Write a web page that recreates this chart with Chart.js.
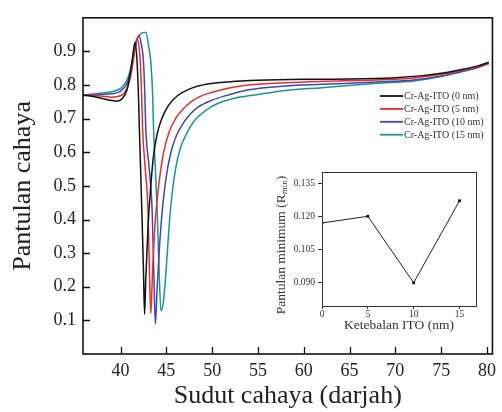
<!DOCTYPE html>
<html>
<head>
<meta charset="utf-8">
<script src="https://cdn.jsdelivr.net/npm/chart.js@4.4.1/dist/chart.umd.min.js"></script>
<style>
  html, body { margin: 0; padding: 0; background: #fff; }
  #wrap { position: relative; width: 502px; height: 412px; }
  #main { position: absolute; left: 0; top: 0; }
  #inset { position: absolute; left: 262px; top: 160px; }
</style>
</head>
<body>
<div id="wrap">
  <canvas id="main" width="502" height="412"></canvas>
  <canvas id="inset" width="220" height="180"></canvas>
</div>
<script>
// --- main plot: reflectance vs angle, one curve per ITO thickness ---
const seriesLabels = ['Cr-Ag-ITO (0 nm)', 'Cr-Ag-ITO (5 nm)', 'Cr-Ag-ITO (10 nm)', 'Cr-Ag-ITO (15 nm)'];
const seriesColors = ['#111111', '#ee2a2a', '#3d47b8', '#16988a'];

const ito0Angle = [35.9, 37, 38, 39, 39.6, 40.2, 40.7, 41.0, 41.3, 41.57, 41.8, 41.95, 42.05, 42.2, 42.35, 42.5, 42.62, 42.75, 43.0, 43.3, 43.6, 44.0, 44.5, 45.2, 46.2, 47.5, 49.5, 52, 55, 60, 65, 70, 73, 75, 77, 79, 80.2];
const ito0Refl  = [0.770, 0.766, 0.760, 0.754, 0.752, 0.760, 0.785, 0.825, 0.880, 0.927, 0.870, 0.772, 0.674, 0.540, 0.400, 0.250, 0.118, 0.220, 0.380, 0.500, 0.590, 0.655, 0.700, 0.738, 0.768, 0.788, 0.803, 0.810, 0.814, 0.817, 0.818, 0.822, 0.828, 0.835, 0.845, 0.857, 0.868];

const ito5Angle = [35.9, 37, 38, 39, 40, 40.7, 41.2, 41.55, 41.8, 42.15, 42.3, 42.4, 42.7, 43.0, 43.15, 43.3, 43.5, 43.8, 44.2, 44.7, 45.3, 46.0, 46.8, 47.8, 49, 50.5, 52, 54, 58, 62, 68, 72, 75, 77, 79, 80.2];
const ito5Refl  = [0.770, 0.769, 0.767, 0.764, 0.768, 0.790, 0.840, 0.905, 0.939, 0.870, 0.772, 0.674, 0.550, 0.425, 0.250, 0.120, 0.250, 0.400, 0.510, 0.600, 0.660, 0.700, 0.728, 0.752, 0.770, 0.782, 0.792, 0.800, 0.807, 0.811, 0.815, 0.821, 0.832, 0.842, 0.854, 0.866];

const ito10Angle = [35.9, 37, 38, 39, 40, 40.7, 41.2, 41.6, 42.0, 42.2, 42.5, 42.65, 42.75, 43.1, 43.45, 43.65, 43.8, 44.0, 44.3, 44.6, 45.0, 45.5, 46.1, 46.8, 47.6, 48.5, 50, 51.3, 54, 58, 62, 68, 72, 75, 77, 79, 80.2];
const ito10Refl  = [0.770, 0.771, 0.772, 0.774, 0.782, 0.805, 0.850, 0.910, 0.947, 0.930, 0.870, 0.772, 0.674, 0.560, 0.425, 0.220, 0.089, 0.200, 0.340, 0.440, 0.530, 0.600, 0.650, 0.685, 0.713, 0.735, 0.755, 0.767, 0.786, 0.797, 0.802, 0.809, 0.815, 0.827, 0.839, 0.852, 0.864];

const ito15Angle = [35.9, 37, 38, 39, 40, 40.7, 41.2, 41.6, 42.1, 42.75, 43.1, 43.3, 43.5, 43.6, 43.8, 44.0, 44.2, 44.42, 44.7, 45.0, 45.3, 45.6, 46.0, 46.5, 47.2, 48.1, 49.5, 50.6, 52, 55, 58, 62, 68, 72, 75, 77, 79, 80.2];
const ito15Refl  = [0.770, 0.773, 0.776, 0.780, 0.790, 0.815, 0.860, 0.920, 0.950, 0.957, 0.910, 0.870, 0.772, 0.674, 0.550, 0.425, 0.250, 0.128, 0.160, 0.260, 0.380, 0.470, 0.550, 0.610, 0.655, 0.695, 0.728, 0.745, 0.758, 0.772, 0.784, 0.792, 0.805, 0.812, 0.825, 0.838, 0.852, 0.864];

const angleTicks = [40, 45, 50, 55, 60, 65, 70, 75, 80];
const reflTicks = [0.1, 0.2, 0.3, 0.4, 0.5, 0.6, 0.7, 0.8, 0.9];

// --- inset: minimum reflectance vs ITO thickness ---
const insetThickness = [0, 5, 10, 15];
const insetMinRefl = [0.117, 0.120, 0.090, 0.127];
const insetXTicks = [0, 5, 10, 15];
const insetYTicks = [0.090, 0.105, 0.120, 0.135];

const SERIF = "'Liberation Serif', 'Times New Roman', serif";

function toPoints(xs, ys) {
    return xs.map((v, i) => ({ x: v, y: ys[i] }));
}

const curves = [
    [ito0Angle, ito0Refl],
    [ito5Angle, ito5Refl],
    [ito10Angle, ito10Refl],
    [ito15Angle, ito15Refl]
];

// box + inward tick marks + legend for the big plot
const mainDecor = {
    id: 'mainDecor',
    afterDraw(chart) {
        const { ctx, chartArea: a, scales: { x, y } } = chart;
        ctx.save();
        ctx.strokeStyle = '#111';
        ctx.lineWidth = 1.6;
        ctx.strokeRect(a.left, a.top, a.right - a.left, a.bottom - a.top);
        ctx.beginPath();
        angleTicks.forEach(v => {
            const px = Math.round(x.getPixelForValue(v)) + 0.5;
            ctx.moveTo(px, a.bottom);
            ctx.lineTo(px, a.bottom - 7);
        });
        reflTicks.forEach(v => {
            const py = Math.round(y.getPixelForValue(v)) + 0.5;
            ctx.moveTo(a.left, py);
            ctx.lineTo(a.left + 7, py);
        });
        ctx.lineWidth = 1.3;
        ctx.stroke();

        // legend
        ctx.font = '10px ' + SERIF;
        ctx.textBaseline = 'middle';
        ctx.fillStyle = '#333';
        chart.data.datasets.forEach((ds, i) => {
            const ly = 96 + i * 12.9;
            ctx.strokeStyle = ds.borderColor;
            ctx.lineWidth = 1.8;
            ctx.beginPath();
            ctx.moveTo(380, ly);
            ctx.lineTo(403, ly);
            ctx.stroke();
            ctx.fillText(ds.label, 404, ly + 0.5);
        });
        ctx.restore();
    }
};

new Chart(document.getElementById('main'), {
    type: 'line',
    data: {
        datasets: curves.map((c, i) => ({
            label: seriesLabels[i],
            data: toPoints(c[0], c[1]),
            borderColor: seriesColors[i],
            borderWidth: 1.5,
            pointRadius: 0,
            fill: false,
            cubicInterpolationMode: 'monotone'
        }))
    },
    options: {
        responsive: false,
        animation: false,
        devicePixelRatio: 1,
        layout: { padding: { top: 14, right: 3, left: 0, bottom: 0 } },
        plugins: { legend: { display: false }, tooltip: { enabled: false } },
        scales: {
            x: {
                type: 'linear',
                min: 35.9,
                max: 80.6,
                afterFit: (scale) => { scale.height = 58; },
                afterBuildTicks: (scale) => { scale.ticks = angleTicks.map(v => ({ value: v })); },
                grid: { display: false, drawTicks: false },
                border: { display: false },
                ticks: {
                    padding: 6,
                    color: '#222',
                    font: { family: SERIF, size: 18 },
                    maxRotation: 0
                },
                title: {
                    display: true,
                    text: 'Sudut cahaya (darjah)',
                    color: '#222',
                    font: { family: SERIF, size: 26 },
                    padding: { top: 0, bottom: 0 }
                }
            },
            y: {
                type: 'linear',
                min: 0,
                max: 1.0,
                afterFit: (scale) => { scale.width = 83; },
                afterBuildTicks: (scale) => { scale.ticks = reflTicks.map(v => ({ value: v })); },
                grid: { display: false, drawTicks: false },
                border: { display: false },
                ticks: {
                    padding: 7,
                    color: '#222',
                    font: { family: SERIF, size: 18 },
                    callback: (v) => v.toFixed(1)
                },
                title: {
                    display: true,
                    text: 'Pantulan cahaya',
                    color: '#222',
                    font: { family: SERIF, size: 26 },
                    padding: { top: 8, bottom: 0 }
                }
            }
        }
    },
    plugins: [mainDecor]
});

// inset frame and its y title with subscript
const insetDecor = {
    id: 'insetDecor',
    afterDraw(chart) {
        const { ctx, chartArea: a } = chart;
        ctx.save();
        ctx.strokeStyle = '#333';
        ctx.lineWidth = 1;
        ctx.strokeRect(a.left + 0.5, a.top + 0.5, a.right - a.left, a.bottom - a.top);

        const main = 'Pantulan minimum (R';
        const sub = 'min';
        const tail = ')';
        const bigFont = '13.5px ' + SERIF;
        const smallFont = '9px ' + SERIF;
        ctx.font = bigFont;
        const w1 = ctx.measureText(main).width;
        const w3 = ctx.measureText(tail).width;
        ctx.font = smallFont;
        const w2 = ctx.measureText(sub).width;
        const total = w1 + w2 + w3;
        ctx.translate(19, (a.top + a.bottom) / 2 + 6);
        ctx.rotate(-Math.PI / 2);
        ctx.fillStyle = '#333';
        ctx.textBaseline = 'middle';
        ctx.textAlign = 'left';
        let cx = -total / 2;
        ctx.font = bigFont;
        ctx.fillText(main, cx, 0);
        cx += w1;
        ctx.font = smallFont;
        ctx.fillText(sub, cx, 4);
        cx += w2;
        ctx.font = bigFont;
        ctx.fillText(tail, cx, 0);
        ctx.restore();
    }
};

new Chart(document.getElementById('inset'), {
    type: 'line',
    data: {
        datasets: [{
            data: toPoints(insetThickness, insetMinRefl),
            borderColor: '#222',
            backgroundColor: '#111',
            borderWidth: 1,
            pointStyle: 'rect',
            pointRadius: 2,
            pointBorderWidth: 0,
            tension: 0
        }]
    },
    options: {
        responsive: false,
        animation: false,
        devicePixelRatio: 1,
        layout: { padding: { top: 12, right: 6, left: 0, bottom: 0 } },
        plugins: { legend: { display: false }, tooltip: { enabled: false } },
        scales: {
            x: {
                type: 'linear',
                min: 0,
                max: 16.8,
                afterFit: (scale) => { scale.height = 34; },
                afterBuildTicks: (scale) => { scale.ticks = insetXTicks.map(v => ({ value: v })); },
                grid: { display: true, drawOnChartArea: false, drawTicks: true, tickLength: 3, color: '#333' },
                border: { display: false },
                ticks: {
                    padding: 0,
                    color: '#333',
                    font: { family: SERIF, size: 9.5 },
                    maxRotation: 0,
                    callback: (v) => String(v)
                },
                title: {
                    display: true,
                    text: 'Ketebalan ITO (nm)',
                    color: '#333',
                    font: { family: SERIF, size: 13.5 },
                    padding: { top: 0, bottom: 6 }
                }
            },
            y: {
                type: 'linear',
                min: 0.0795,
                max: 0.140,
                afterFit: (scale) => { scale.width = 60; },
                afterBuildTicks: (scale) => { scale.ticks = insetYTicks.map(v => ({ value: v })); },
                grid: { display: true, drawOnChartArea: false, drawTicks: true, tickLength: 4, color: '#333' },
                border: { display: false },
                ticks: {
                    padding: 3,
                    color: '#333',
                    font: { family: SERIF, size: 9.5 },
                    callback: (v) => v.toFixed(3)
                }
            }
        }
    },
    plugins: [insetDecor]
});
</script>
</body>
</html>
